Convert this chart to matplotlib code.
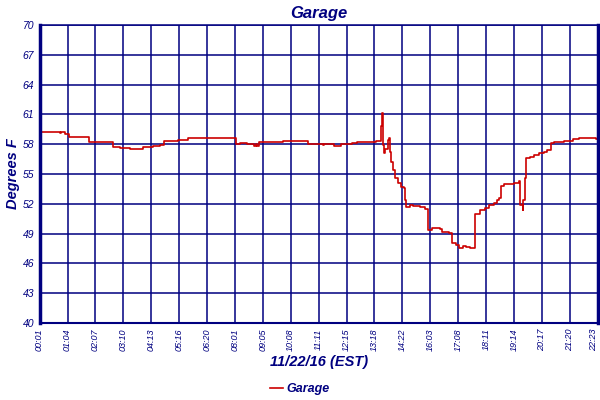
import matplotlib
matplotlib.use("Agg")
import matplotlib.pyplot as plt

# ---------- DATA ----------
# x tick labels (times of day, one per grid column)
time_labels = ["00:01", "01:04", "02:07", "03:10", "04:13", "05:16", "06:20",
               "08:01", "09:05", "10:08", "11:11", "12:15", "13:18", "14:22",
               "16:03", "17:08", "18:11", "19:14", "20:17", "21:20", "22:23"]

pos = [0.00, 0.72, 0.76, 0.92, 1.06, 1.78, 2.64, 2.89, 3.24, 3.46, 3.71,
       4.07, 4.32, 4.47, 4.97, 5.32, 7.04, 7.18, 7.43, 7.68, 7.75, 7.81,
       7.87, 8.25, 8.72, 9.08, 9.62, 10.16, 10.19, 10.54, 10.82, 11.21,
       11.36, 11.71, 12.07, 12.25, 12.28, 12.31, 12.34, 12.39, 12.47, 12.51,
       12.55, 12.61, 12.67, 12.75, 12.84, 12.97, 13.06, 13.08, 13.12, 13.26,
       13.37, 13.62, 13.80, 13.92, 14.05, 14.34, 14.44, 14.69, 14.79, 14.94,
       15.05, 15.16, 15.30, 15.41, 15.62, 15.77, 15.95, 16.12, 16.30, 16.38,
       16.48, 16.52, 16.66, 17.02, 17.20, 17.23, 17.31, 17.34, 17.41, 17.45,
       17.56, 17.73, 17.91, 18.09, 18.20, 18.33, 18.45, 18.81, 19.11, 19.35,
       19.53, 19.96, 20.00]
temp = [59.2, 59.1, 59.2, 59.0, 58.7, 58.2, 57.7, 57.6, 57.5, 57.55, 57.7,
        57.85, 57.9, 58.3, 58.4, 58.6, 58.0, 58.1, 58.0, 57.8, 58.0, 57.8,
        58.2, 58.25, 58.3, 58.35, 58.0, 57.9, 58.0, 57.8, 58.0, 58.1,
        58.2, 58.25, 58.3, 59.8, 61.1, 57.9, 57.1, 57.5, 58.4, 58.6,
        57.25, 56.2, 55.4, 54.6, 54.05, 53.65, 53.55, 52.4, 51.65, 51.9,
        51.8, 51.65, 51.45, 49.4, 49.6, 49.5, 49.2, 49.1, 48.1, 47.85,
        47.6, 47.8, 47.7, 47.5, 51.0, 51.35, 51.6, 51.9, 52.05, 52.35,
        52.55, 53.8, 53.95, 54.05, 54.3, 51.9, 51.35, 52.35, 54.55, 56.6,
        56.75, 56.9, 57.15, 57.2, 57.4, 58.15, 58.25, 58.35, 58.55, 58.65,
        58.6, 58.55, 58.55]

y_ticks = [40, 43, 46, 49, 52, 55, 58, 61, 64, 67, 70]

navy = "#000080"
red = "#CC0000"
label_font = ["Liberation Sans Narrow", "Liberation Sans", "DejaVu Sans"]
tick_font = ["Liberation Sans", "DejaVu Sans"]

# ---------- PLOT ----------
fig = plt.figure(figsize=(6, 4), dpi=100)
ax = fig.add_axes([0.066, 0.1925, 0.930, 0.745])

ax.plot(pos, temp, color=red, linewidth=1.2, drawstyle="steps-post", label="Garage")

ax.set_xlim(0, len(time_labels) - 1)
ax.set_ylim(40, 70)
ax.set_xticks(range(len(time_labels)))
ax.set_xticklabels(time_labels, rotation=90, fontsize=6.5, style="italic",
                   color=navy, family=tick_font)
# keep the last time label inside the picture
ax.get_xticklabels()[-1].set_horizontalalignment("right")
ax.set_yticks(y_ticks)
ax.set_yticklabels([str(v) for v in y_ticks], fontsize=7.5, style="italic",
                   color=navy, family=tick_font)
ax.tick_params(length=0, pad=4)

ax.grid(True, color=navy, linewidth=1.1)
ax.set_axisbelow(True)

for side in ["left", "right"]:
    ax.spines[side].set_color(navy)
    ax.spines[side].set_linewidth(2.5)
ax.spines["bottom"].set_color(navy)
ax.spines["bottom"].set_linewidth(1.5)
ax.spines["top"].set_color(navy)
ax.spines["top"].set_linewidth(1.1)

ax.set_title("Garage", fontsize=12, style="italic", weight="bold",
             color=navy, family=label_font, pad=5)
ax.set_ylabel("Degrees F", fontsize=10.5, style="italic", weight="bold",
              color=navy, family=label_font, labelpad=2)
ax.set_xlabel("11/22/16 (EST)", fontsize=10.5, style="italic", weight="bold",
              color=navy, family=label_font, labelpad=3)

leg = fig.legend(loc="center", bbox_to_anchor=(0.5, 0.027), frameon=False,
                 handlelength=1.0, handletextpad=0.3,
                 prop={"family": label_font, "style": "italic", "weight": "bold", "size": 9})
for t in leg.get_texts():
    t.set_color(navy)

fig.savefig("out.png", dpi=100)
